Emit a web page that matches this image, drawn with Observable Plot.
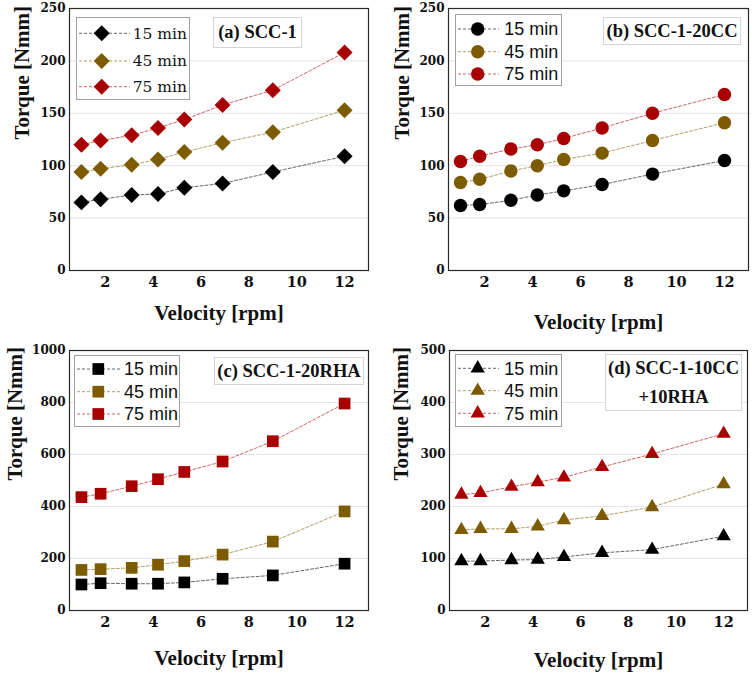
<!DOCTYPE html>
<html><head><meta charset="utf-8">
<script src="https://cdn.jsdelivr.net/npm/d3@7"></script>
<script src="https://cdn.jsdelivr.net/npm/@observablehq/plot@0.6"></script>
<style>
body{margin:0;background:#fff}
#wrap{position:relative;width:752px;height:675px;overflow:hidden;background:#fff}
.panel{position:absolute}
.lbl{position:absolute;background:#fff;box-sizing:border-box;border:1px solid #d4d4d4;
  font-family:"Liberation Serif",serif;font-weight:bold;font-size:18.5px;color:#111;
  display:flex;flex-direction:column;align-items:center;justify-content:center;line-height:29px;white-space:nowrap}
.leg{position:absolute}
</style></head><body><div id="wrap"></div>
<script>
// ---- data ----
const velocity = [1, 1.8, 3.1, 4.2, 5.3, 6.9, 9, 12];
const series = ["15 min", "45 min", "75 min"];
const xTicks = [2, 4, 6, 8, 10, 12];

const a15 = [65, 68, 72, 73, 79, 83, 94, 109];
const a45 = [94, 97, 101, 106, 113, 122, 132, 153];
const a75 = [120, 124, 129, 136, 144, 158, 172, 208];

const b15 = [62, 63, 67, 72, 76, 82, 92, 105];
const b45 = [84, 87, 95, 100, 106, 112, 124, 141];
const b75 = [104, 109, 116, 120, 126, 136, 150, 168];

const c15 = [100, 105, 103, 103, 108, 122, 135, 180];
const c45 = [156, 159, 164, 176, 190, 215, 265, 381];
const c75 = [436, 449, 478, 505, 533, 573, 651, 796];

const d15 = [95, 95, 97, 98, 103, 111, 117, 143];
const d45 = [155, 157, 157, 162, 174, 182, 199, 243];
const d75 = [223, 226, 238, 247, 256, 276, 301, 340];

const yTicksAB = [0, 50, 100, 150, 200, 250];
const yTicksC = [0, 200, 400, 600, 800, 1000];
const yTicksD = [0, 100, 200, 300, 400, 500];

const labelA = ["(a) SCC-1"];
const labelB = ["(b) SCC-1-20CC"];
const labelC = ["(c) SCC-1-20RHA"];
const labelD = ["(d) SCC-1-10CC", "+10RHA"];

const xTitle = "Velocity [rpm]";
const yTitle = "Torque [Nmm]";

// ---- styles / layout ----
const markerColors = ["#000000", "#7d5b00", "#a80000"];
const yTickFont = {fontSize: 12, fontFamily: "'DejaVu Serif', serif", fontWeight: "bold"};
const xTickFont = {fontSize: 14.5, fontFamily: "'DejaVu Serif', serif", fontWeight: "bold"};
const titleFont = {fontSize: 21, fontFamily: "'Liberation Serif', serif", fontWeight: "bold"};

const panels = [
  {vals:[a15,a45,a75], yTicks:yTicksAB, ymax:250, symbol:"diamond2", r:7.2, label:labelA,
   left:0, top:0, h:330, ml:69, mr:8, mt:8, mb:60, xtDy:43, ytDx:-47,
   leg:{x:76,y:17,w:114,h:83,rows:[16.3,44,69.7],l0:3,l1:54,mx:25.7,tx:56.7,font:"'DejaVu Serif',serif",fs:15.5},
   lb:{x:213,y:17,w:89,h:31}},
  {vals:[b15,b45,b75], yTicks:yTicksAB, ymax:250, symbol:"circle", r:6.7, label:labelB,
   left:376, top:0, h:330, ml:72, mr:4, mt:8, mb:60, xtDy:52, ytDx:-46,
   leg:{x:455,y:14,w:107,h:72,rows:[15,37.7,60],l0:3,l1:44,mx:22.7,tx:49.3,font:"'Liberation Sans',Arial,sans-serif",fs:18},
   lb:{x:603,y:17,w:138,h:28}},
  {vals:[c15,c45,c75], yTicks:yTicksC, ymax:1000, symbol:"square", r:6.6, label:labelC,
   left:0, top:330, h:345, ml:69, mr:8, mt:20, mb:65, xtDy:48, ytDx:-54,
   leg:{x:74,y:355,w:106,h:72,rows:[14,36.7,59],l0:3,l1:46,mx:24.3,tx:50,font:"'Liberation Sans',Arial,sans-serif",fs:18},
   lb:{x:214,y:357,w:150,h:28}},
  {vals:[d15,d45,d75], yTicks:yTicksD, ymax:500, symbol:"triangle", r:5.3, label:labelD,
   left:376, top:330, h:345, ml:73, mr:5, mt:20, mb:65, xtDy:50, ytDx:-48,
   leg:{x:455,y:354,w:107,h:73,rows:[14.3,36.7,59.3],l0:3,l1:44,mx:22.7,tx:49.3,font:"'Liberation Sans',Arial,sans-serif",fs:18},
   lb:{x:605,y:354,w:137,h:57}}
];

const wrap = document.getElementById("wrap");
const symbolMap = {diamond2: d3.symbolDiamond2, circle: d3.symbolCircle, square: d3.symbolSquare, triangle: d3.symbolTriangle};

for (const p of panels) {
  const data = [];
  p.vals.forEach((arr, s) => velocity.forEach((v, i) => data.push({x: v, y: arr[i], s: series[s]})));
  const svg = Plot.plot({
    width: 376, height: p.h,
    marginLeft: p.ml, marginRight: p.mr, marginTop: p.mt, marginBottom: p.mb,
    style: {fontFamily: "'DejaVu Serif', serif", fontWeight: "bold", fontSize: "12px", color: "#111", background: "transparent", overflow: "visible"},
    x: {domain: [0.5, 13]},
    y: {domain: [0, p.ymax]},
    color: {domain: series, range: markerColors},
    marks: [
      Plot.gridY(p.yTicks, {stroke: "#e4e4e4", strokeOpacity: 1}),
      Plot.line(data, {x: "x", y: "y", z: "s", stroke: "s", strokeOpacity: 0.6, strokeWidth: 1, strokeDasharray: "3,2"}),
      Plot.dot(data, {x: "x", y: "y", fill: "s", symbol: p.symbol, r: p.r}),
      Plot.frame({stroke: "#2a2a2a", strokeWidth: 1.2}),
      Plot.axisX(xTicks, {tickSize: 0, tickPadding: 6, label: null, tickFormat: d => String(d), ...xTickFont}),
      Plot.axisY(p.yTicks, {tickSize: 0, tickPadding: 4, label: null, tickFormat: d => String(d), ...yTickFont}),
      Plot.text([xTitle], {text: d => d, frameAnchor: "bottom", dy: p.xtDy, lineAnchor: "middle", ...titleFont}),
      Plot.text([yTitle], {text: d => d, frameAnchor: "left", dx: p.ytDx, rotate: -90, lineAnchor: "middle", ...titleFont})
    ]
  });
  const div = document.createElement("div");
  div.className = "panel";
  div.style.left = p.left + "px";
  div.style.top = p.top + "px";
  div.appendChild(svg);
  wrap.appendChild(div);

  // legend box
  const L = p.leg;
  const lg = d3.select(wrap).append("svg").attr("class", "leg")
    .style("left", L.x + "px").style("top", L.y + "px")
    .attr("width", L.w).attr("height", L.h);
  lg.append("rect").attr("x", 0.5).attr("y", 0.5).attr("width", L.w - 1).attr("height", L.h - 1)
    .attr("fill", "#fff").attr("stroke", "#a0a0a0");
  const sym = d3.symbol(symbolMap[p.symbol], Math.PI * p.r * p.r);
  series.forEach((s, i) => {
    const y = L.rows[i];
    lg.append("line").attr("x1", L.l0).attr("x2", L.l1).attr("y1", y).attr("y2", y)
      .attr("stroke", markerColors[i]).attr("stroke-opacity", 0.6).attr("stroke-dasharray", "3,2");
    lg.append("path").attr("d", sym()).attr("transform", `translate(${L.mx},${y})`).attr("fill", markerColors[i]);
    lg.append("text").attr("x", L.tx).attr("y", y).attr("dy", "0.35em")
      .attr("font-family", L.font).attr("font-size", L.fs).attr("fill", "#111").text(s);
  });

  // panel label box
  const lb = document.createElement("div");
  lb.className = "lbl";
  Object.assign(lb.style, {left: p.lb.x + "px", top: p.lb.y + "px", width: p.lb.w + "px", height: p.lb.h + "px"});
  p.label.forEach(t => { const sp = document.createElement("div"); sp.textContent = t; lb.appendChild(sp); });
  wrap.appendChild(lb);
}
</script></body></html>
